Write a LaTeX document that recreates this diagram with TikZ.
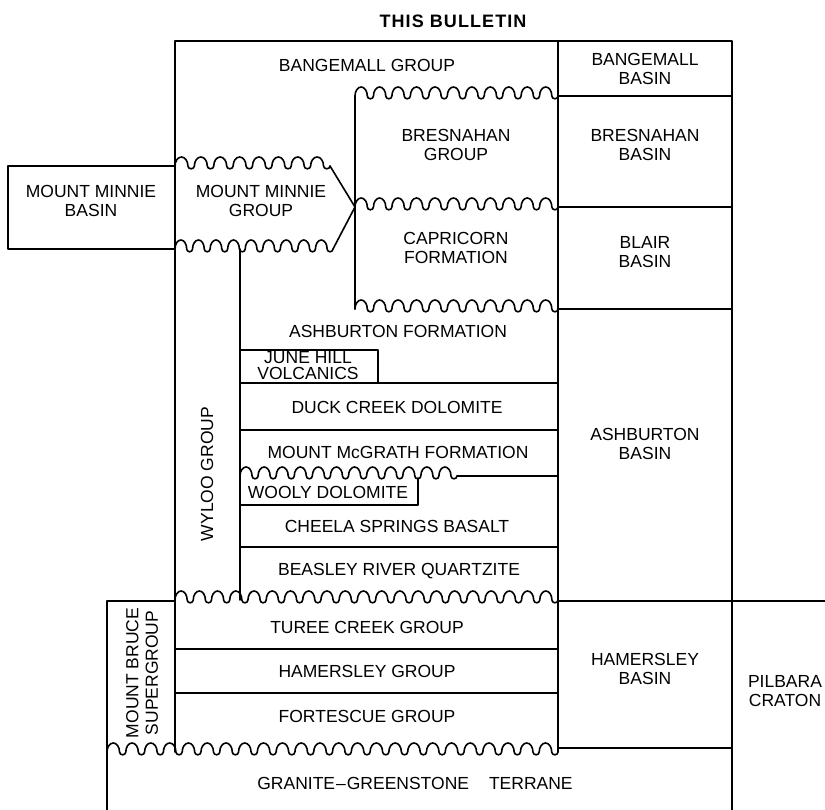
\documentclass[tikz,border=0pt]{standalone}
\usepackage{fontspec}
\setmainfont{Liberation Sans}
\newfontfamily\titlefont[LetterSpace=6]{Liberation Sans}
\newcommand\wavyline[3]{%
  \pgfmathtruncatemacro\wvn{max(1,round((#2-#1)/18.5))}%
  \pgfmathsetmacro\wva{(#2-#1)/\wvn/3}%
  \pgfmathsetmacro\wvb{(#2-#1)/\wvn/6}%
  \draw[ln] (#1,#3) \foreach \wvi in {1,...,\wvn}{ arc[start angle=180,end angle=360,x radius=\wva,y radius=9] arc[start angle=180,end angle=0,x radius=\wvb,y radius=2.8] };%
}
\begin{document}
\begin{tikzpicture}[x=1pt,y=-1pt,
  ln/.style={line width=1.6pt, line cap=round, line join=round},
  lbl/.style={font=\fontsize{17.5}{19.5}\selectfont, inner sep=0pt, align=center},
  tight/.style={font=\fontsize{17.5}{16}\selectfont, inner sep=0pt, align=center}]
\useasboundingbox (0,0) rectangle (825,810);
% main frame
\draw[ln] (175,752) -- (175,41) -- (732,41) -- (732,810);
\draw[ln] (558,41) -- (558,752);
% right column
\draw[ln] (558,96) -- (732,96);
\draw[ln] (558,207) -- (732,207);
\draw[ln] (558,309) -- (732,309);
\draw[ln] (558,601) -- (825,601);
\draw[ln] (558,748) -- (732,748);
% Mount Minnie basin
\draw[ln] (175,166) -- (8,166) -- (8,249) -- (175,249);
% Mount Minnie group
\wavyline{175}{330}{166}
\wavyline{175}{333}{249}
\draw[ln] (330,166) -- (355,207) -- (333,249);
% Bresnahan / Capricorn
\draw[ln] (355,96) -- (355,309);
\wavyline{355}{558}{96}
\wavyline{355}{558}{207}
\wavyline{355}{558}{309}
% Wyloo group
\draw[ln] (240,249) -- (240,600);
\draw[ln] (240,350) -- (378,350) -- (378,383);
\draw[ln] (240,383) -- (558,383);
\draw[ln] (240,430) -- (558,430);
\wavyline{240}{457}{476}
\draw[ln] (457,476) -- (558,476);
\draw[ln] (418,478) -- (418,505) -- (240,505);
\draw[ln] (240,547) -- (558,547);
\wavyline{175}{558}{600}
% Mount Bruce supergroup
\draw[ln] (107,810) -- (107,601) -- (175,601);
\draw[ln] (175,649) -- (558,649);
\draw[ln] (175,693) -- (558,693);
\wavyline{107}{558}{752}
% labels
\node (title) at (453,21) {\titlefont\bfseries\fontsize{18}{20}\selectfont THIS BULLETIN};
\node[lbl] (bangg) at (367,65) {BANGEMALL GROUP};
\node[lbl] (bangb) at (645,69) {BANGEMALL\\BASIN};
\node[lbl] (bresg) at (456,145) {BRESNAHAN\\GROUP};
\node[lbl] (bresb) at (645,145) {BRESNAHAN\\BASIN};
\node[lbl] (mmb) at (91,201) {MOUNT MINNIE\\BASIN};
\node[lbl] (mmg) at (261,201) {MOUNT MINNIE\\GROUP};
\node[lbl] (capf) at (456,248) {CAPRICORN\\FORMATION};
\node[lbl] (blair) at (645,252) {BLAIR\\BASIN};
\node[lbl] (ashf) at (398,331) {ASHBURTON FORMATION};
\node[tight] (june) at (308,366) {JUNE HILL\\VOLCANICS};
\node[lbl] (duck) at (397,407) {DUCK CREEK DOLOMITE};
\node[lbl] (mcg) at (398,452) {MOUNT McGRATH FORMATION};
\node[lbl] (wooly) at (328,492) {WOOLY DOLOMITE};
\node[lbl] (cheela) at (397,526) {CHEELA SPRINGS BASALT};
\node[lbl] (beasley) at (399,571) {BEASLEY RIVER QUARTZITE};
\node[lbl] (ashb) at (645,444) {ASHBURTON\\BASIN};
\node[lbl, rotate=90] (wyloo) at (207,474) {WYLOO GROUP};
\node[lbl] (turee) at (367,627) {TUREE CREEK GROUP};
\node[lbl] (hamg) at (367,671) {HAMERSLEY GROUP};
\node[lbl] (fort) at (367,716) {FORTESCUE GROUP};
\node[lbl] (hamb) at (645,669) {HAMERSLEY\\BASIN};
\node[lbl] (pilb) at (785,691) {PILBARA\\CRATON};
\node[lbl, rotate=90] (mbs) at (142,673) {MOUNT BRUCE\\SUPERGROUP};
\node[lbl] (gran) at (415,783) {GRANITE\kern1pt–\kern1pt GREENSTONE\hspace{20pt}TERRANE};
\end{tikzpicture}
\end{document}
